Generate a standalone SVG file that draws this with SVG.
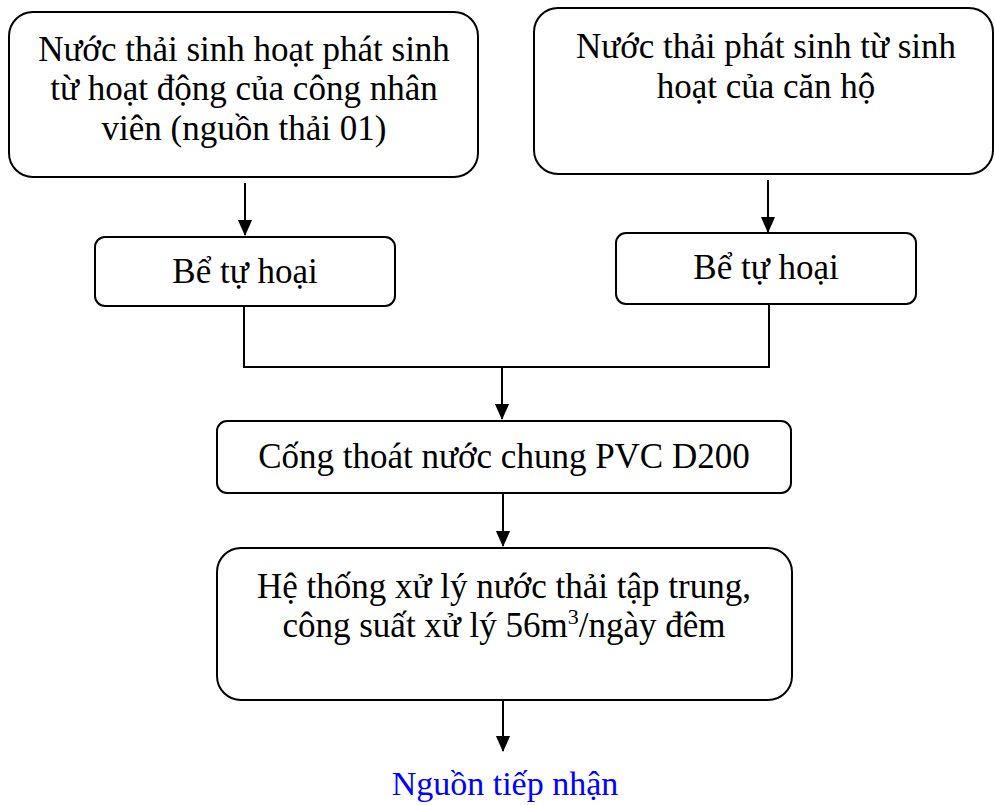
<svg xmlns="http://www.w3.org/2000/svg" width="995" height="805" viewBox="0 0 995 805">
  <style>
    .box { fill: #ffffff; stroke: #000000; stroke-width: 2; }
    .lbl { font-family: "Liberation Serif", "Times New Roman", serif; font-size: 35px; fill: #000000; text-anchor: middle; }
    .out { fill: #0000ff; font-size: 34px; }
    .wire { fill: none; stroke: #000000; stroke-width: 2; }
  </style>
  <defs>
    <marker id="head" markerUnits="userSpaceOnUse" markerWidth="16" markerHeight="18" refX="17" refY="8" orient="auto" viewBox="0 0 18 16">
      <path d="M0,0 L18,8 L0,16 Z" fill="#000000"/>
    </marker>
  </defs>

  <g id="nodes">
    <g id="src-workers">
      <rect class="box" x="9" y="12" width="469" height="165" rx="24"/>
      <text class="lbl" x="244" y="61">Nước thải sinh hoạt phát sinh</text>
      <text class="lbl" x="244" y="100">từ hoạt động của công nhân</text>
      <text class="lbl" x="244" y="140">viên (nguồn thải 01)</text>
    </g>
    <g id="src-apartments">
      <rect class="box" x="534" y="8" width="459" height="166" rx="24"/>
      <text class="lbl" x="766" y="58">Nước thải phát sinh từ sinh</text>
      <text class="lbl" x="766" y="98">hoạt của căn hộ</text>
    </g>
    <g id="septic-1">
      <rect class="box" x="95" y="237" width="300" height="69" rx="10"/>
      <text class="lbl" x="245" y="283">Bể tự hoại</text>
    </g>
    <g id="septic-2">
      <rect class="box" x="616" y="233" width="300" height="71" rx="10"/>
      <text class="lbl" x="766" y="279">Bể tự hoại</text>
    </g>
    <g id="sewer">
      <rect class="box" x="217" y="421" width="574" height="72" rx="10"/>
      <text class="lbl" x="504" y="468">Cống thoát nước chung PVC D200</text>
    </g>
    <g id="treatment">
      <rect class="box" x="217" y="548" width="575" height="152" rx="24"/>
      <text class="lbl" x="504" y="598">Hệ thống xử lý nước thải tập trung,</text>
      <text class="lbl" x="504" y="637">công suất xử lý 56m<tspan font-size="22" dy="-13">3</tspan><tspan dy="13">/ngày đêm</tspan></text>
    </g>
    <g id="receiver">
      <text class="lbl out" x="505" y="795">Nguồn tiếp nhận</text>
    </g>
  </g>

  <g id="connectors">
    <line class="wire" x1="245" y1="183" x2="245" y2="235" marker-end="url(#head)"/>
    <line class="wire" x1="768" y1="180" x2="768" y2="232" marker-end="url(#head)"/>
    <polyline class="wire" points="244,306 244,367 769,367 769,304"/>
    <line class="wire" x1="502" y1="367" x2="502" y2="419" marker-end="url(#head)"/>
    <line class="wire" x1="503" y1="493" x2="503" y2="546" marker-end="url(#head)"/>
    <line class="wire" x1="503" y1="700" x2="503" y2="751" marker-end="url(#head)"/>
  </g>
</svg>
